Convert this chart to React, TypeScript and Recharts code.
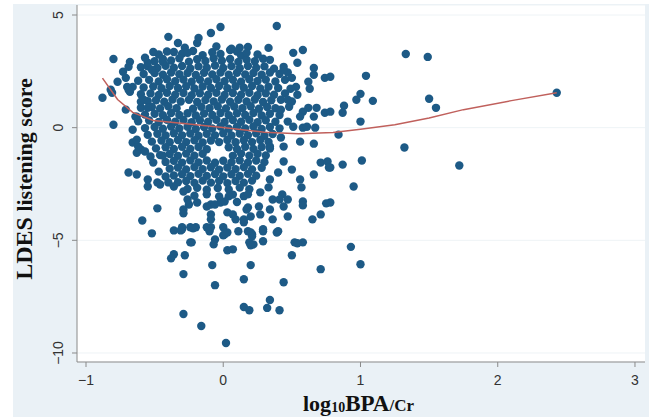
import { ScatterChart, Scatter, XAxis, YAxis, CartesianGrid } from "recharts";

type Pt = [number, number];

const xTicks = [-1, 0, 1, 2, 3];
const yTicks = [-10, -5, 0, 5];

// dense middle of the cloud, read row by row (log10 BPA/Cr, LDES score)
const coreUpper: Pt[] = [
  [-0.28, 3.55], [-0.05, 3.6], [0.12, 3.55],
  [-0.47, 3.25], [-0.41, 3.38], [-0.3, 3.28], [-0.22, 3.4], [-0.15, 3.22], [-0.08, 3.35], [-0.02, 3.27], [0.1, 3.38], [0.13, 3.2], [0.25, 3.25],
  [-0.5, 2.95], [-0.44, 3.05], [-0.38, 2.98], [-0.32, 3.08], [-0.25, 2.93], [-0.19, 3.04], [-0.13, 2.96], [-0.07, 3.08], [-0.01, 2.97], [0.05, 3.05], [0.11, 2.92], [0.17, 3.02], [0.23, 2.95], [0.29, 3.06],
  [-0.6, 2.68], [-0.55, 2.72], [-0.48, 2.65], [-0.42, 2.75], [-0.36, 2.66], [-0.3, 2.74], [-0.24, 2.63], [-0.18, 2.72], [-0.12, 2.66], [-0.06, 2.76], [0.0, 2.65], [0.06, 2.73], [0.12, 2.64], [0.18, 2.74], [0.24, 2.66], [0.3, 2.72], [0.37, 2.62],
  [-0.58, 2.38], [-0.5, 2.42], [-0.44, 2.35], [-0.38, 2.45], [-0.32, 2.37], [-0.26, 2.43], [-0.2, 2.34], [-0.14, 2.44], [-0.08, 2.36], [-0.02, 2.45], [0.04, 2.35], [0.1, 2.44], [0.16, 2.36], [0.22, 2.43], [0.28, 2.35], [0.34, 2.45], [0.41, 2.38], [0.47, 2.45],
  [-0.62, 2.08], [-0.54, 2.12], [-0.47, 2.05], [-0.41, 2.15], [-0.35, 2.06], [-0.29, 2.14], [-0.23, 2.04], [-0.17, 2.13], [-0.11, 2.05], [-0.05, 2.15], [0.01, 2.06], [0.07, 2.13], [0.13, 2.04], [0.19, 2.15], [0.25, 2.07], [0.31, 2.13], [0.38, 2.05], [0.45, 2.12],
  [-0.58, 1.78], [-0.51, 1.83], [-0.45, 1.75], [-0.39, 1.85], [-0.33, 1.76], [-0.27, 1.84], [-0.21, 1.74], [-0.15, 1.83], [-0.09, 1.76], [-0.03, 1.85], [0.03, 1.75], [0.09, 1.84], [0.15, 1.77], [0.21, 1.85], [0.27, 1.74], [0.33, 1.82], [0.4, 1.76],
  [-0.6, 1.48], [-0.53, 1.52], [-0.47, 1.45], [-0.41, 1.55], [-0.35, 1.46], [-0.29, 1.54], [-0.23, 1.44], [-0.17, 1.53], [-0.11, 1.46], [-0.05, 1.55], [0.01, 1.45], [0.07, 1.54], [0.13, 1.46], [0.19, 1.55], [0.25, 1.44], [0.31, 1.53], [0.37, 1.46], [0.45, 1.52],
  [-0.55, 1.18], [-0.49, 1.22], [-0.43, 1.15], [-0.37, 1.25], [-0.31, 1.16], [-0.25, 1.24], [-0.19, 1.14], [-0.13, 1.23], [-0.07, 1.16], [-0.01, 1.25], [0.05, 1.15], [0.11, 1.24], [0.17, 1.16], [0.23, 1.25], [0.29, 1.14], [0.35, 1.22], [0.5, 1.16],
  [-0.6, 0.88], [-0.52, 0.92], [-0.46, 0.85], [-0.4, 0.95], [-0.34, 0.86], [-0.22, 0.84], [-0.16, 0.93], [-0.1, 0.86], [-0.04, 0.95], [0.02, 0.85], [0.08, 0.94], [0.14, 0.86], [0.2, 0.95], [0.26, 0.84], [0.32, 0.92], [0.38, 0.86], [0.48, 0.93],
  [-0.57, 0.58], [-0.5, 0.62], [-0.44, 0.55], [-0.38, 0.65], [-0.32, 0.56], [-0.26, 0.64], [-0.2, 0.54], [-0.14, 0.63], [-0.08, 0.56], [-0.02, 0.65], [0.04, 0.55], [0.1, 0.64], [0.16, 0.56], [0.22, 0.65], [0.28, 0.54], [0.34, 0.62], [0.41, 0.56],
  [-0.62, 0.28], [-0.54, 0.32], [-0.47, 0.25], [-0.41, 0.35], [-0.35, 0.26], [-0.29, 0.34], [-0.23, 0.24], [-0.17, 0.33], [-0.11, 0.26], [-0.05, 0.35], [0.01, 0.25], [0.07, 0.34], [0.13, 0.26], [0.19, 0.35], [0.25, 0.24], [0.31, 0.33], [0.38, 0.26],
];

const coreLower: Pt[] = [
  [-0.57, -0.02], [-0.5, 0.03], [-0.44, -0.05], [-0.38, 0.05], [-0.32, -0.04], [-0.26, 0.04], [-0.2, -0.06], [-0.14, 0.03], [-0.08, -0.04], [-0.02, 0.05], [0.04, -0.05], [0.1, 0.04], [0.16, -0.04], [0.22, 0.05], [0.28, -0.06], [0.34, 0.03], [0.41, -0.03],
  [-0.55, -0.32], [-0.48, -0.27], [-0.42, -0.35], [-0.36, -0.25], [-0.3, -0.34], [-0.24, -0.26], [-0.18, -0.36], [-0.12, -0.27], [-0.06, -0.34], [0.0, -0.25], [0.06, -0.35], [0.12, -0.26], [0.18, -0.34], [0.24, -0.25], [0.3, -0.36], [0.36, -0.28],
  [-0.52, -0.62], [-0.45, -0.57], [-0.39, -0.65], [-0.33, -0.55], [-0.27, -0.64], [-0.21, -0.56], [-0.15, -0.66], [-0.09, -0.57], [-0.03, -0.64], [0.03, -0.55], [0.09, -0.65], [0.15, -0.56], [0.21, -0.64], [0.27, -0.55], [0.33, -0.63],
  [-0.49, -0.92], [-0.42, -0.87], [-0.36, -0.95], [-0.3, -0.85], [-0.24, -0.94], [-0.18, -0.86], [-0.12, -0.96], [0.04, -0.87], [0.1, -0.95], [0.16, -0.85], [0.22, -0.94], [0.28, -0.86], [0.34, -0.93],
  [-0.46, -1.22], [-0.39, -1.17], [-0.33, -1.25], [-0.27, -1.15], [-0.21, -1.24], [-0.15, -1.16], [0.07, -1.25], [0.13, -1.15], [0.19, -1.24], [0.25, -1.16], [0.31, -1.23],
  [-0.42, -1.52], [-0.36, -1.47], [-0.3, -1.55], [-0.24, -1.45], [-0.18, -1.54], [-0.12, -1.46], [-0.06, -1.56], [0.0, -1.47], [0.06, -1.54], [0.12, -1.45], [0.18, -1.55], [0.24, -1.46], [0.3, -1.53],
  [-0.39, -1.82], [-0.33, -1.77], [-0.27, -1.85], [-0.21, -1.75], [-0.15, -1.84], [-0.09, -1.76], [-0.03, -1.86], [0.03, -1.77], [0.09, -1.84], [0.15, -1.75], [0.21, -1.85], [0.28, -1.78],
  [-0.36, -2.12], [-0.3, -2.07], [-0.24, -2.15], [-0.18, -2.05], [-0.12, -2.14], [-0.06, -2.06], [0.0, -2.16], [0.06, -2.07], [0.12, -2.14], [0.18, -2.05], [0.24, -2.13],
  [-0.33, -2.42], [-0.27, -2.37], [-0.21, -2.45], [-0.15, -2.35], [-0.09, -2.44], [-0.03, -2.36], [0.03, -2.46], [0.09, -2.37], [0.15, -2.44], [0.21, -2.35],
  [-0.26, -2.72], [-0.19, -2.67], [-0.12, -2.75], [-0.04, -2.68], [0.04, -2.74], [0.12, -2.66], [0.19, -2.73],
  [-0.21, -3.02], [-0.12, -2.96], [-0.03, -3.05], [0.07, -2.97], [0.15, -3.04],
];

// scattered points around the edges of the cloud
const edgeLeft: Pt[] = [
  [-0.8, 3.05], [-0.68, 2.92], [-0.69, 2.7], [-0.73, 2.48], [-0.71, 2.21], [-0.77, 2.04], [-0.82, 1.68], [-0.88, 1.33],
  [-0.81, 1.55], [-0.7, 1.81], [-0.66, 1.81], [-0.68, 1.59], [-0.6, 1.15], [-0.71, 0.8], [-0.8, 0.13], [-0.64, 0.49],
  [-0.55, 2.88], [-0.52, 2.57], [-0.51, 3.36], [-0.57, 3.1], [-0.4, 4.03], [-0.33, 3.76], [-0.19, 3.76], [-0.18, 3.98],
  [-0.09, 4.2], [-0.02, 4.47], [0.05, 3.45], [0.18, 3.58], [0.17, 3.32], [-0.26, 3.32], [-0.36, 3.36], [-0.44, 2.92],
  [-0.69, 1.68], [-0.63, 0.49], [-0.58, 1.24], [-0.55, 0.88], [-0.66, -0.09], [-0.66, -0.66], [-0.6, -0.97], [-0.63, -1.11],
  [-0.53, -1.28], [-0.51, -1.55], [-0.69, -1.99], [-0.63, -2.08], [-0.55, -2.3], [-0.55, -2.61], [-0.48, -2.43], [-0.36, -2.61],
  [-0.62, -0.84], [-0.63, -0.53], [-0.57, -1.06], [-0.44, -1.24], [-0.47, -1.95], [-0.42, -2.17], [-0.4, -2.43], [-0.46, -2.52],
];

const edgeRight: Pt[] = [
  [0.39, 4.51], [0.33, 3.54], [0.51, 3.32], [0.58, 3.45], [0.54, 2.88], [0.66, 2.65], [0.66, 2.35], [0.74, 2.21],
  [0.62, 2.04], [0.63, 1.73], [0.5, 2.21], [0.53, 1.81], [0.54, 1.46], [0.49, 1.73], [0.44, 2.7], [0.44, 2.57],
  [0.34, 3.01], [0.06, 3.5], [1.0, 1.5], [0.97, 1.24], [1.09, 1.19], [0.88, 0.97], [0.87, 0.66], [1.0, 0.27],
  [0.84, -0.31], [0.68, 0.88], [0.62, 0.88], [0.58, 0.71], [0.56, 0.49], [0.66, 0.49], [0.74, 0.66], [0.58, 0.0],
  [0.51, 0.04], [0.47, 0.27], [0.42, 0.8], [0.42, 1.24], [0.47, 1.24], [0.67, 0.0], [0.61, 0.04], [0.78, 2.26],
  [0.78, 0.71], [1.04, 2.3], [1.33, 3.27], [1.49, 3.14], [1.5, 1.28], [1.55, 0.88], [2.43, 1.55], [1.32, -0.88],
  [1.72, -1.68], [0.87, -1.64], [1.01, -1.46], [0.95, -2.61], [0.78, -1.77], [0.78, -3.32],
  [0.56, -0.62], [0.66, -0.71], [0.42, -0.44], [0.44, -0.84], [0.34, -0.84], [0.71, -1.55], [0.76, -1.5], [0.77, -1.77],
  [0.66, -2.08], [0.56, -2.3], [0.57, -2.65], [0.5, -1.86], [0.44, -1.5], [0.4, -1.99], [0.34, -2.3], [0.33, -2.65],
  [0.43, -2.96], [0.41, -3.19], [0.47, -3.19], [0.44, -3.5], [0.36, -3.19], [0.34, -3.63], [0.27, -2.87], [0.26, -3.5],
  [0.27, -3.85], [0.18, -3.54], [0.2, -3.94], [0.36, -4.07], [0.47, -3.94], [0.58, -3.28], [0.58, -3.45], [0.65, -4.07],
  [0.71, -3.85], [0.75, -3.36],
];

const lowTail: Pt[] = [
  [0.52, -5.09], [0.58, -5.09], [0.4, -4.6], [0.29, -4.51], [0.21, -4.73], [0.19, -5.09], [0.15, -4.2], [0.1, -3.3],
  [0.07, -3.85], [0.0, -4.42], [0.0, -4.78], [-0.09, -4.42], [0.04, -3.05], [-0.02, -3.32], [-0.09, -3.41], [-0.09, -3.85],
  [-0.48, -3.58], [-0.59, -4.12], [-0.52, -4.69], [-0.29, -2.83], [-0.26, -3.19], [-0.29, -3.63], [-0.25, -3.41], [-0.3, -4.42],
  [-0.24, -4.42], [-0.2, -4.42], [-0.19, -3.32], [-0.12, -3.5], [-0.09, -4.07], [-0.06, -4.96], [0.01, -3.28], [0.03, -3.76],
  [0.09, -4.07], [0.03, -4.65], [0.15, -4.07], [0.17, -3.63], [0.18, -2.96], [0.2, -4.65], [0.22, -5.18], [-0.06, -3.41],
  [-0.12, -4.42], [-0.29, -3.8], [-0.3, -4.51], [-0.22, -4.47], [-0.23, -5.09], [-0.36, -5.62], [-0.38, -5.8], [-0.28, -5.66],
  [-0.29, -6.5], [-0.29, -8.27], [-0.16, -8.8], [-0.08, -6.1], [-0.06, -6.99], [-0.07, -5.18], [-0.24, -5.09], [0.01, -4.73],
  [0.03, -5.44], [0.07, -5.4], [0.21, -4.82], [0.2, -5.22], [0.29, -5.04], [0.29, -4.6], [0.39, -4.65], [0.54, -5.13],
  [0.5, -5.66], [0.93, -5.29], [1.0, -6.06], [0.71, -6.28], [0.44, -6.86], [0.2, -6.1], [0.15, -6.73], [0.02, -9.56],
  [0.15, -7.96], [0.19, -8.1], [0.32, -8.0], [0.34, -7.65], [0.41, -8.1], [-0.36, -4.56], [-0.31, -4.56], [-0.1, -4.6],
  [0.11, -4.6], [0.18, -4.6],
];

// lowess fit
const fitX = [-0.88, -0.77, -0.66, -0.51, -0.27, -0.02, 0.3, 0.55, 0.8, 1.0, 1.25, 1.5, 1.75, 2.1, 2.43];
const fitY = [2.2, 1.25, 0.68, 0.32, 0.17, 0.02, -0.2, -0.27, -0.21, -0.07, 0.13, 0.43, 0.8, 1.2, 1.55];

const points = [...coreUpper, ...coreLower, ...edgeLeft, ...edgeRight, ...lowTail].map(([x, y]) => ({ x, y }));
const fit = fitX.map((x, i) => ({ x, y: fitY[i] }));

const fmt = (v: number) => (v < 0 ? `\u2212${Math.abs(v)}` : `${v}`);
const tickFont = "'Liberation Sans', Arial, sans-serif";
const titleFont = "'Liberation Serif', 'Times New Roman', serif";

const YTick = ({ y, payload }: any) => (
  <text x={63} y={y} transform={`rotate(-90, 63, ${y})`} textAnchor="middle" fontSize={14} fill="#333" fontFamily={tickFont}>
    {fmt(payload.value)}
  </text>
);

const XTick = ({ x, payload }: any) => (
  <text x={x} y={385} textAnchor="middle" fontSize={14} fill="#333" fontFamily={tickFont}>
    {fmt(payload.value)}
  </text>
);

const Dot = (p: any) => <circle cx={p.cx} cy={p.cy} r={4.2} fill="#1d5a86" />;

export default function App() {
  return (
    <div style={{ position: "absolute", left: 0, top: 0, width: 649, height: 417, background: "#fff" }}>
      <div style={{ position: "absolute", left: 13, top: 4, right: 0, bottom: 0, background: "#eaf1f6" }} />
      <div style={{ position: "absolute", left: 0, top: 0 }}>
        <ScatterChart width={649} height={417} margin={{ top: 5, right: 4, bottom: 0, left: 0 }}>
          <CartesianGrid vertical={false} stroke="#eef3f6" fill="#ffffff" />
          <XAxis
            type="number"
            dataKey="x"
            domain={[-1.0656, 3.073]}
            ticks={xTicks}
            allowDataOverflow
            height={55}
            tickSize={5}
            stroke="#8a8a8a"
            tick={<XTick />}
          />
          <YAxis
            type="number"
            dataKey="y"
            domain={[-10.4, 5.444]}
            ticks={yTicks}
            allowDataOverflow
            width={77}
            tickSize={5}
            stroke="#8a8a8a"
            tick={<YTick />}
          />
          <Scatter data={points} shape={Dot} isAnimationActive={false} />
          <Scatter
            data={fit}
            line={{ stroke: "#c0605c", strokeWidth: 1.5 }}
            lineType="joint"
            shape={() => <g />}
            isAnimationActive={false}
          />
        </ScatterChart>
      </div>
      <svg width={649} height={417} style={{ position: "absolute", left: 0, top: 0, pointerEvents: "none" }}>
        <text transform="translate(32,179) rotate(-90)" textAnchor="middle" fontFamily={titleFont} fontWeight="bold" fill="#111">
          <tspan fontSize={24}>LDES</tspan>
          <tspan fontSize={22}> listening score</tspan>
        </text>
        <text x={303} y={411} fontFamily={titleFont} fontWeight="bold" fill="#111">
          <tspan fontSize={22}>log</tspan>
          <tspan fontSize={14} dy={1}>10</tspan>
          <tspan fontSize={23} dy={-1}>BPA</tspan>
          <tspan fontSize={17}>/Cr</tspan>
        </text>
      </svg>
    </div>
  );
}
